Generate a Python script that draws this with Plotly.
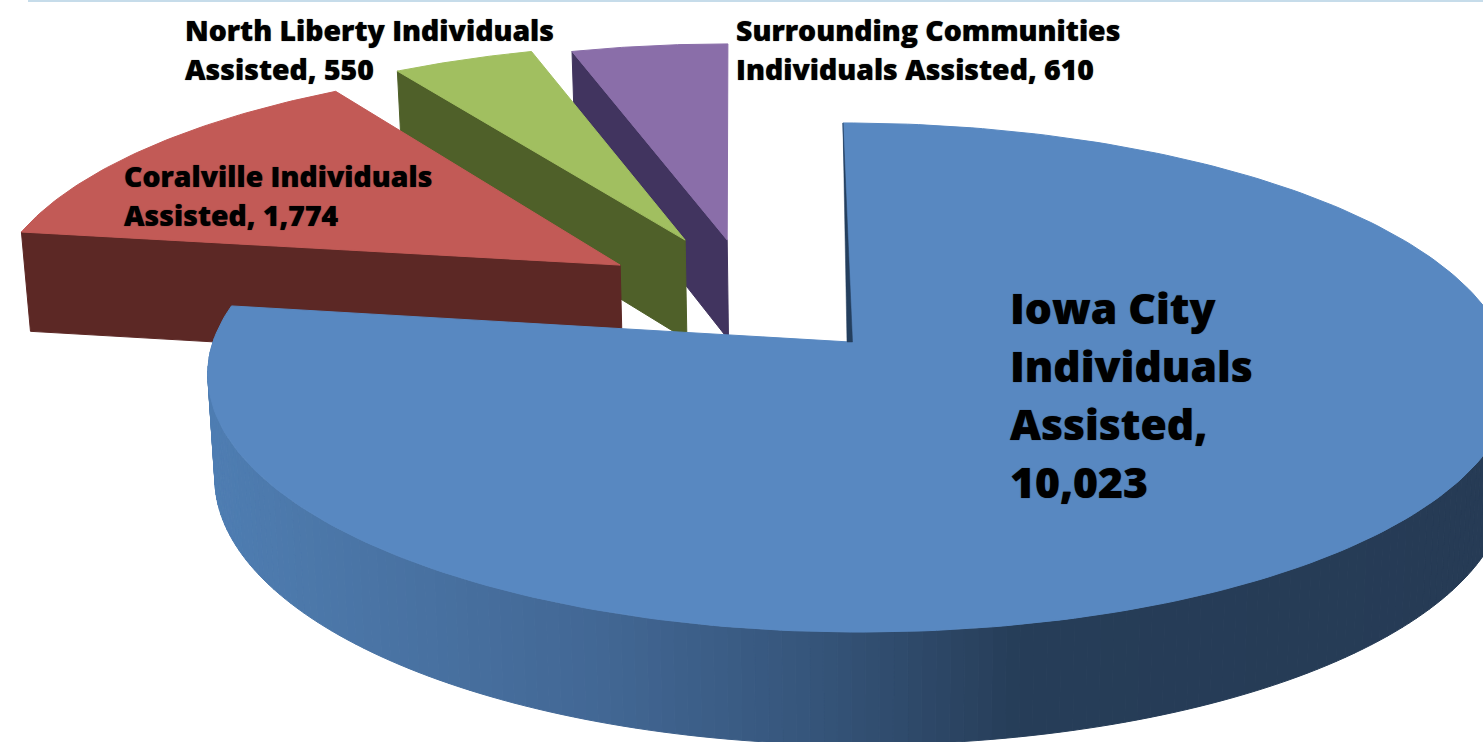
import numpy as np
import plotly.graph_objects as go

# ---- data ----
categories = ["Iowa City", "Coralville", "North Liberty", "Surrounding Communities"]
individuals = [10023, 1774, 550, 610]
label_lines = [
    ["Iowa City", "Individuals", "Assisted,", "{}"],
    ["Coralville Individuals", "Assisted, {}"],
    ["North Liberty Individuals", "Assisted, {}"],
    ["Surrounding Communities", "Individuals Assisted, {}"],
]
top_colors = ["#5888c1", "#c25a56", "#a1bf60", "#8a6ea9"]
wall_colors = [None, "#5c2825", "#4f6029", "#41345f"]
explode_u = [0.0, -0.373, -0.269, -0.199]
explode_v = [0.0, 0.322, 0.433, 0.433]
rim_shift_u = [0.0, -0.018, -0.019, -0.013]
label_x = [1009, 123, 184, 735]
label_y = [307, 176, 30, 30]
label_step = [58, 39, 39, 39]
label_size = [42.6, 28.4, 28.4, 28.4]
wall_stops_x = [207, 300, 600, 800, 1020, 1483]
wall_stops_rgb = [(78, 125, 178), (76, 120, 170), (66, 103, 148), (54, 86, 124), (38, 61, 88), (38, 59, 85)]

# ---- projection of the flat pie on to the page ----
CX, K, SHEAR = 850.0, 0.1395, -8.0
TOP = dict(a=637.0, a_right=655.0, y0=342.0, b=249.6)
BASE = dict(a=630.0, a_right=650.0, y0=445.0, b=258.0)


def project(u, v, face):
    u, v = np.asarray(u, float), np.asarray(v, float)
    w = 1 + K * v
    a = np.where(u > 0, face["a_right"], face["a"])
    return CX + a * u / w + SHEAR * v / w, face["y0"] - face["b"] * v / w


def rim(theta, du, dv, su):
    return np.sin(theta) + du + su, np.cos(theta) + dv


def hex_wall(x):
    c = [np.interp(x, wall_stops_x, [s[i] for s in wall_stops_rgb]) for i in range(3)]
    return "rgb({:.0f},{:.0f},{:.0f})".format(*c)


fig = go.Figure()


def poly(xs, ys, color, name, width=1):
    fig.add_trace(go.Scatter(
        x=list(xs), y=list(ys), mode="lines", fill="toself", fillcolor=color,
        line=dict(color=color, width=width), hoverinfo="skip", showlegend=False, name=name,
    ))


fractions = np.array(individuals) / sum(individuals)
edges = np.concatenate([[0.0], np.cumsum(fractions)]) * 2 * np.pi

for i in [3, 2, 1, 0]:
    t0, t1 = edges[i], edges[i + 1]
    du, dv, su = explode_u[i], explode_v[i], rim_shift_u[i]
    th = np.linspace(t0, t1, 260 if i == 0 else 60)
    ru, rv = rim(th, du, dv, su)
    if i == 0:
        xt, yt = project(ru, rv, TOP)
        xb, yb = project(ru, rv, BASE)
        for j in range(len(th) - 1):
            if rv[j] > 0:  # the far half of the rim is hidden behind the top face
                continue
            poly([xt[j], xt[j + 1], xb[j + 1], xb[j], xt[j]],
                 [yt[j], yt[j + 1], yb[j + 1], yb[j], yt[j]],
                 hex_wall((xt[j] + xt[j + 1]) / 2), categories[i] + " wall")
    else:
        # radial wall facing the viewer, on the slice's leading edge
        eu, ev = rim(t0, du, dv, su)
        x1, y1 = project(eu, ev, TOP)
        x2, y2 = project(du, dv, TOP)
        x3, y3 = project(du, dv, BASE)
        x4, y4 = project(eu, ev, BASE)
        poly([x1, x2, x3, x4, x1], [y1, y2, y3, y4, y1], wall_colors[i], categories[i] + " wall")
    xs, ys = project(np.concatenate([[du], ru, [du]]), np.concatenate([[dv], rv, [dv]]), TOP)
    poly(xs, ys, top_colors[i], categories[i])
    if i == 0:
        # sliver of the radial wall at twelve o'clock, widening toward the centre
        tx, ty = project(0.0, 1.0, TOP)
        cx, cy = project(0.0, 0.0, TOP)
        poly([tx, cx + 2.5, cx - 3, tx], [ty, cy, cy, ty], "#243f5e", "Iowa City inner wall", width=0.5)

for i, lines in enumerate(label_lines):
    for n, line in enumerate(lines):
        fig.add_annotation(x=label_x[i], y=label_y[i] + n * label_step[i], xref="x", yref="y",
                           text=line.format(f"{individuals[i]:,}"), showarrow=False,
                           xanchor="left", yanchor="middle", align="left", borderpad=0,
                           font=dict(family="Open Sans", size=label_size[i], color="#000000", weight=800,
                                     shadow="0 0 1px rgba(0,0,0,0.7)"))

fig.add_shape(type="rect", x0=28, x1=1483, y0=0, y1=2, xref="x", yref="y",
              fillcolor="#c6dcea", line=dict(width=0))

fig.update_layout(
    width=1483, height=742, autosize=False, margin=dict(l=0, r=0, t=0, b=0),
    paper_bgcolor="#ffffff", plot_bgcolor="#ffffff", showlegend=False,
    xaxis=dict(range=[0, 1483], visible=False, fixedrange=True),
    yaxis=dict(range=[742, 0], visible=False, fixedrange=True),
)
fig.write_html("out.html", config={"displayModeBar": False},
               post_script="document.body.style.margin='0';document.body.style.overflow='hidden';")
